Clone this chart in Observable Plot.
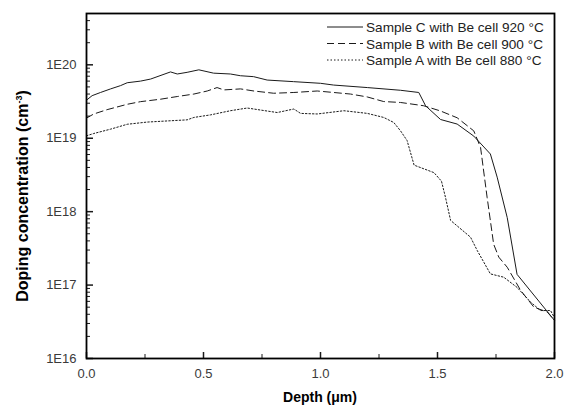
<!DOCTYPE html>
<html><head><meta charset="utf-8">
<script src="https://cdn.jsdelivr.net/npm/d3@7"></script>
<script src="https://cdn.jsdelivr.net/npm/@observablehq/plot@0.6"></script>
<style>html,body{margin:0;padding:0;background:#fff}svg{display:block}</style>
</head><body><div id="chart"></div>
<script>
// Sample C (solid), Be cell 920 °C
const depthC = [0, 0.024, 0.06, 0.103, 0.145, 0.174, 0.231, 0.274, 0.359, 0.388, 0.43, 0.48, 0.543, 0.615, 0.658, 0.714, 0.772, 0.885, 1.0, 1.056, 1.2, 1.342, 1.42, 1.449, 1.513, 1.584, 1.655, 1.726, 1.755, 1.798, 1.84, 2.0];
const concC = [3.3e19, 3.8e19, 4.2e19, 4.7e19, 5.2e19, 5.7e19, 6.0e19, 6.4e19, 8.0e19, 7.5e19, 7.9e19, 8.55e19, 7.7e19, 7.5e19, 7.1e19, 6.9e19, 6.2e19, 5.9e19, 5.6e19, 5.3e19, 4.9e19, 4.5e19, 4.2e19, 2.77e19, 1.8e19, 1.56e19, 1.07e19, 6.1e18, 2.95e18, 8.3e17, 1.4e17, 3.3e16];
// Sample B (dashed), Be cell 900 °C
const depthB = [0, 0.031, 0.088, 0.174, 0.231, 0.316, 0.388, 0.459, 0.516, 0.558, 0.587, 0.658, 0.715, 0.8, 0.886, 0.986, 1.056, 1.128, 1.2, 1.27, 1.342, 1.441, 1.513, 1.584, 1.655, 1.684, 1.712, 1.74, 1.762, 1.798, 1.855, 1.912, 1.969, 2.0];
const concB = [1.88e19, 2.14e19, 2.45e19, 2.9e19, 3.15e19, 3.4e19, 3.7e19, 4.0e19, 4.4e19, 4.9e19, 4.55e19, 4.7e19, 4.4e19, 4.1e19, 4.2e19, 4.4e19, 4.2e19, 4.0e19, 3.65e19, 3.16e19, 3.07e19, 2.77e19, 2.35e19, 1.9e19, 1.26e19, 7.5e18, 1.57e18, 3.6e17, 2.4e17, 1.75e17, 8.5e16, 5.0e16, 4.3e16, 3.3e16];
// Sample A (dotted), Be cell 880 °C
const depthA = [0, 0.031, 0.103, 0.174, 0.259, 0.359, 0.43, 0.459, 0.53, 0.615, 0.687, 0.744, 0.815, 0.886, 0.915, 0.986, 1.1, 1.2, 1.27, 1.313, 1.342, 1.37, 1.40, 1.485, 1.517, 1.534, 1.556, 1.641, 1.67, 1.726, 1.783, 1.84, 1.897, 1.94, 1.983, 2.0];
const concA = [1.08e19, 1.16e19, 1.33e19, 1.55e19, 1.66e19, 1.73e19, 1.78e19, 1.92e19, 2.08e19, 2.37e19, 2.58e19, 2.42e19, 2.24e19, 2.5e19, 2.18e19, 2.14e19, 2.37e19, 2.18e19, 1.92e19, 1.64e19, 1.26e19, 9.3e18, 4.3e18, 3.4e18, 2.6e18, 1.57e18, 7.6e17, 4.5e17, 2.95e17, 1.42e17, 1.28e17, 9.3e16, 5.9e16, 4.5e16, 4.5e16, 3.6e16];

const seriesNames = ["Sample C with Be cell 920 \u00B0C", "Sample B with Be cell 900 \u00B0C", "Sample A with Be cell 880 \u00B0C"];
const xMajor = [0, 0.5, 1.0, 1.5, 2.0];
const xMinor = [0.25, 0.75, 1.25, 1.75];
const yMajor = [1e16, 1e17, 1e18, 1e19, 1e20];
const yMinorMult = [2, 3, 4, 5, 6, 7, 8, 9];
const xTitle = "Depth (\u03BCm)";
const yTitle = "Doping concentration (cm";

const yMinor = [];
for (const m of yMajor) for (const k of yMinorMult) { const v = m * k; if (v <= 5e20) yMinor.push(v); }

const toRows = (xs, ys) => xs.map((d, i) => ({depth: d, conc: ys[i]}));
const rowsC = toRows(depthC, concC), rowsB = toRows(depthB, concB), rowsA = toRows(depthA, concA);

const W = 564, H = 409, mL = 86, mR = 10, mT = 13, mB = 51;
const fw = W - mL - mR, fh = H - mT - mB;
const ink = "#1a1a1a";
const styles = [
  {stroke: ink, strokeWidth: 1},
  {stroke: ink, strokeWidth: 1, strokeDasharray: "7,4"},
  {stroke: ink, strokeWidth: 1, strokeDasharray: "1.5,2"}
];
const FONT = "'Liberation Sans', Arial, sans-serif";

const chart = Plot.plot({
  width: W, height: H, marginLeft: mL, marginRight: mR, marginTop: mT, marginBottom: mB,
  style: {fontFamily: FONT, fontSize: "13px", background: "#fff", color: "#3a3a3a"},
  x: {domain: [0, 2]},
  y: {type: "log", domain: [1e16, 5e20]},
  marks: [
    Plot.ruleY(yMinor, {insetRight: fw - 4, stroke: ink, strokeWidth: 1}),
    Plot.ruleY(yMajor, {insetRight: fw - 7, stroke: ink, strokeWidth: 1.5}),
    Plot.ruleX(xMinor, {insetTop: fh - 4, stroke: ink, strokeWidth: 1}),
    Plot.ruleX(xMajor, {insetTop: fh - 6, stroke: ink, strokeWidth: 1.5}),
    Plot.axisY({ticks: yMajor, tickSize: 0, tickPadding: 10, tickFormat: d => "1E" + Math.round(Math.log10(d)), label: null}),
    Plot.axisX({ticks: xMajor, tickSize: 0, tickPadding: 10, tickFormat: d3.format(".1f"), label: null}),
    Plot.line(rowsC, {x: "depth", y: "conc", ...styles[0]}),
    Plot.line(rowsB, {x: "depth", y: "conc", ...styles[1]}),
    Plot.line(rowsA, {x: "depth", y: "conc", ...styles[2]}),
    Plot.frame({stroke: "#000", strokeWidth: 1.8})
  ]
});
document.getElementById("chart").appendChild(chart);

const svg = d3.select(chart);
// Legend
const lg = svg.append("g").attr("font-family", FONT).attr("font-size", 13.6).attr("fill", "#222").attr("text-anchor", "start");
const legendY = [27, 43.5, 60];
seriesNames.forEach((name, i) => {
  const s = styles[i];
  lg.append("line").attr("x1", 327).attr("x2", 363).attr("y1", legendY[i]).attr("y2", legendY[i])
    .attr("stroke", s.stroke).attr("stroke-width", s.strokeWidth).attr("stroke-dasharray", s.strokeDasharray || null);
  lg.append("text").attr("x", 366).attr("y", legendY[i] + 5).attr("text-anchor", "start").text(name);
});
// Axis titles
svg.append("text").attr("x", 320).attr("y", 402).attr("text-anchor", "middle")
  .attr("font-family", FONT).attr("font-weight", "bold").attr("font-size", 14).attr("fill", "#000")
  .text(xTitle);
const yt = svg.append("text").attr("transform", "translate(28,196) rotate(-90)").attr("text-anchor", "middle")
  .attr("font-family", FONT).attr("font-weight", "bold").attr("font-size", 16).attr("fill", "#000");
yt.append("tspan").text(yTitle);
yt.append("tspan").attr("font-size", 9).attr("dy", -6).text("-3");
yt.append("tspan").attr("dy", 6).text(")");
</script>
</body></html>
